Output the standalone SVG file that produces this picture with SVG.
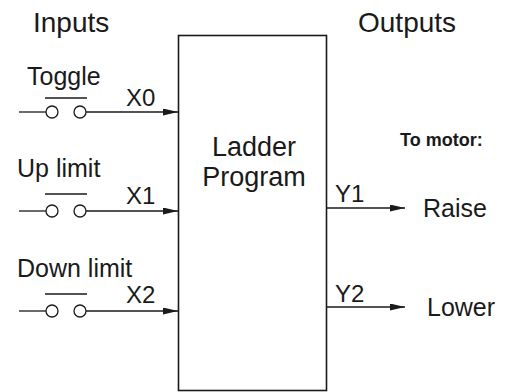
<svg xmlns="http://www.w3.org/2000/svg" width="512" height="392" viewBox="0 0 512 392">
<style>
text{font-family:"Liberation Sans",Arial,sans-serif;fill:#1a1a1a}
.h{font-size:28px}
.l{font-size:25px}
.s{font-size:24px}
.w{stroke:#1a1a1a;stroke-width:1.3;fill:none}
.c{stroke:#1a1a1a;stroke-width:1.3;fill:#fff}
</style>
<defs>
<marker id="ah" viewBox="0 0 15 7" refX="15" refY="3.5" markerWidth="15" markerHeight="7" markerUnits="userSpaceOnUse" orient="auto">
<path d="M0,0 L15,3.5 L0,7 Z" fill="#1a1a1a"/>
</marker>
</defs>
<rect width="512" height="392" fill="#fff"/>
<text class="h" x="33" y="32">Inputs</text>
<text class="h" x="358" y="32">Outputs</text>
<g id="plc">
<rect x="178.5" y="35.5" width="148" height="355" fill="#fff" stroke="#1a1a1a" stroke-width="1.6"/>
<text x="254" y="156" text-anchor="middle" style="font-size:27px">Ladder</text>
<text x="254" y="186" text-anchor="middle" style="font-size:27px">Program</text>
</g>
<g id="toggle">
<text class="l" x="27" y="85">Toggle</text>
<line class="w" x1="45" y1="98" x2="87" y2="98"/>
<circle class="c" cx="52" cy="112" r="6"/>
<circle class="c" cx="80" cy="112" r="6"/>
</g>
<g id="uplimit">
<text class="l" x="17" y="177">Up limit</text>
<line class="w" x1="45" y1="194" x2="87" y2="194"/>
<circle class="c" cx="52" cy="211" r="6"/>
<circle class="c" cx="80" cy="211" r="6"/>
</g>
<g id="downlimit">
<text class="l" x="17" y="277">Down limit</text>
<line class="w" x1="45" y1="294" x2="87" y2="294"/>
<circle class="c" cx="52" cy="311" r="6"/>
<circle class="c" cx="80" cy="311" r="6"/>
</g>
<g id="raise"><text class="l" x="423" y="217">Raise</text></g>
<g id="lower"><text class="l" x="427" y="316">Lower</text></g>
<text x="400" y="146" style="font-size:18px;font-weight:bold">To motor:</text>
<g id="connectors">
<line class="w" x1="19" y1="112" x2="46" y2="112"/>
<path class="w" d="M86,112 H178" marker-end="url(#ah)"/>
<line class="w" x1="19" y1="211" x2="46" y2="211"/>
<path class="w" d="M86,211 H178" marker-end="url(#ah)"/>
<line class="w" x1="19" y1="311" x2="46" y2="311"/>
<path class="w" d="M86,311 H178" marker-end="url(#ah)"/>
<path class="w" d="M327,208 H405" marker-end="url(#ah)"/>
<path class="w" d="M327,307 H405" marker-end="url(#ah)"/>
<text class="s" x="126" y="106">X0</text>
<text class="s" x="126" y="204">X1</text>
<text class="s" x="126" y="303">X2</text>
<text class="s" x="335" y="202">Y1</text>
<text class="s" x="335" y="302">Y2</text>
</g>
</svg>
